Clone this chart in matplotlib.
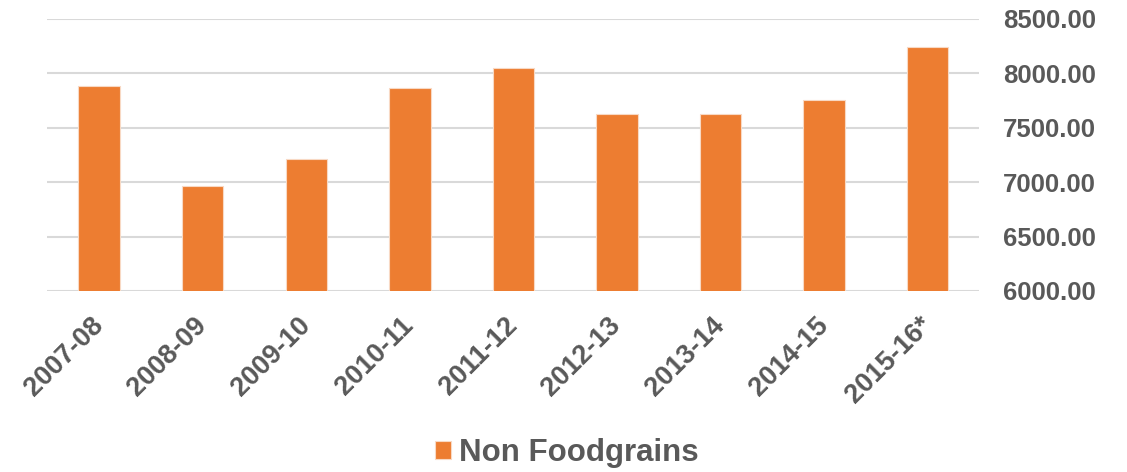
import matplotlib.pyplot as plt
import numpy as np
from matplotlib.ticker import FuncFormatter

years = ['2007-08', '2008-09', '2009-10', '2010-11', '2011-12',
         '2012-13', '2013-14', '2014-15', '2015-16*']
non_foodgrains = [7887, 6962, 7213, 7866, 8047, 7624, 7627, 7759, 8243]
y_ticks = [6000, 6500, 7000, 7500, 8000, 8500]

orange = '#ED7D31'
grey_text = '#595959'

plt.rcParams['font.family'] = ['Liberation Sans', 'DejaVu Sans']

fig = plt.figure(figsize=(11.27, 4.72), dpi=100)
ax = fig.add_axes([0.042, 0.3835, 0.827, 0.5765])

x = np.arange(len(years))
ax.bar(x, non_foodgrains, width=0.4, color=orange, edgecolor='#F8D9C4',
       linewidth=0.8, label='Non Foodgrains', zorder=3)

ax.set_xlim(-0.5, len(years) - 0.5)
ax.set_ylim(y_ticks[0], y_ticks[-1])
ax.set_yticks(y_ticks)
ax.yaxis.set_major_formatter(FuncFormatter(lambda v, p: f'{v:.2f}'))
ax.yaxis.tick_right()
ax.grid(axis='y', color='#D9D9D9', linewidth=1.5, zorder=0)
ax.set_axisbelow(True)
for s in ax.spines.values():
    s.set_visible(False)

ax.tick_params(axis='y', length=0, pad=17, labelsize=18.5, labelcolor=grey_text)
ax.tick_params(axis='x', length=0, pad=22, labelsize=19.5, labelcolor=grey_text)
for lbl in ax.get_yticklabels():
    lbl.set_fontweight('bold')

ax.set_xticks(x)
ax.set_xticklabels(years, rotation=45, ha='right', va='center',
                   rotation_mode='anchor', fontweight='bold')

leg = fig.legend(loc='center', bbox_to_anchor=(0.503, 1 - 453 / 472), frameon=False,
                 prop={'size': 22.5, 'weight': 'bold'}, handlelength=0.5,
                 handleheight=0.5, handletextpad=0.25)
for t in leg.get_texts():
    t.set_color(grey_text)

fig.savefig('out.png', dpi=100)
